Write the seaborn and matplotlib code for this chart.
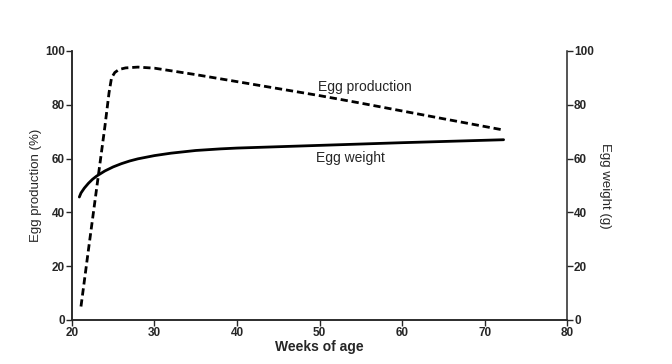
import pandas as pd
import seaborn as sns
import matplotlib.pyplot as plt

# values
prod_weeks = [21.1, 22, 23, 24, 24.5, 24.8, 25.2, 25.7, 26.5, 28, 30, 35, 40, 45, 50, 55, 60, 65, 72.3]
prod_values = [5, 26, 49, 72, 84.5, 90.0, 92.0, 93.1, 93.7, 94, 93.6, 91.2, 88.6, 86.0, 83.4, 80.6, 77.7, 74.8, 70.6]

weight_weeks = [20.9, 21.1, 21.5, 22, 22.5, 23, 24, 25, 26, 27, 28, 30, 32, 35, 38, 40, 45, 50, 60, 72.3]
weight_values = [45.7, 47.2, 49.0, 50.8, 52.3, 53.5, 55.4, 56.9, 58.1, 59.1, 59.9, 61.1, 62.0, 63.0, 63.6, 63.9, 64.4, 64.9, 65.9, 67.0]

x_ticks = [20, 30, 40, 50, 60, 70, 80]
y_ticks = [0, 20, 40, 60, 80, 100]

sns.set_style("ticks")
plt.rcParams["font.family"] = ["Liberation Sans", "DejaVu Sans"]

prod = pd.DataFrame({"week": prod_weeks, "value": prod_values})
weight = pd.DataFrame({"week": weight_weeks, "value": weight_values})

fig = plt.figure(figsize=(6.72, 3.64), dpi=100)
ax = fig.add_axes([0.107, 0.121, 0.737, 0.739])

sns.lineplot(data=prod, x="week", y="value", ax=ax, color="black",
             linewidth=2.0, linestyle=(0, (2.6, 1.4)))
ax.set_xlim(20, 80)
ax.set_ylim(0, 100)
ax.set_xticks(x_ticks)
ax.set_yticks(y_ticks)
ax.set_xlabel("Weeks of age", fontsize=10, fontweight="bold", labelpad=1)
ax.set_ylabel("Egg production (%)", fontsize=9.5, labelpad=2)
ax.tick_params(labelsize=8.5, length=4, width=1, pad=1)
for lab in ax.get_xticklabels() + ax.get_yticklabels():
    lab.set_fontweight("bold")

ax2 = ax.twinx()
sns.lineplot(data=weight, x="week", y="value", ax=ax2, color="black", linewidth=2.0)
ax2.set_ylim(0, 100)
ax2.set_yticks(y_ticks)
ax2.set_ylabel("Egg weight (g)", fontsize=9.5, rotation=270, labelpad=12)
ax2.tick_params(labelsize=8.5, length=4, width=1, pad=1)
for lab in ax2.get_yticklabels():
    lab.set_fontweight("bold")

for a in (ax, ax2):
    a.spines["top"].set_visible(False)
    for s in ("left", "right", "bottom"):
        a.spines[s].set_linewidth(1.1)
ax2.spines["right"].set_visible(True)
ax.spines["right"].set_visible(False)

ax.text(49.8, 86.6, "Egg production", fontsize=10, va="center", ha="left")
ax.text(49.6, 60.2, "Egg weight", fontsize=10, va="center", ha="left")

fig.savefig("out.png", dpi=100)
